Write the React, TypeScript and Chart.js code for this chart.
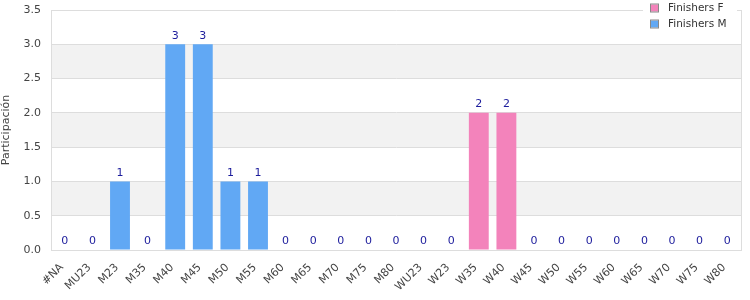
import React, { useEffect, useRef } from "react";
import { Chart, registerables } from "chart.js";

Chart.register(...registerables);

const categories = ["#NA","MU23","M23","M35","M40","M45","M50","M55","M60","M65","M70","M75","M80","WU23","W23","W35","W40","W45","W50","W55","W60","W65","W70","W75","W80"];
const finishersF = [0,0,0,0,0,0,0,0,0,0,0,0,0,0,0,2,2,0,0,0,0,0,0,0,0];
const finishersM = [0,0,1,0,3,3,1,1,0,0,0,0,0,0,0,0,0,0,0,0,0,0,0,0,0];
const yTicks = [0, 0.5, 1, 1.5, 2, 2.5, 3, 3.5];

const FONT = "'DejaVu Sans', Verdana, sans-serif";

const bandsPlugin = {
  id: "bands",
  beforeDraw(chart: any) {
    const { ctx, chartArea, scales } = chart;
    const y = scales.y;
    ctx.save();
    ctx.fillStyle = "#ffffff";
    ctx.fillRect(chartArea.left, chartArea.top, chartArea.right - chartArea.left, chartArea.bottom - chartArea.top);
    for (let i = 0; i < yTicks.length - 1; i++) {
      if (i % 2 === 1) {
        const y0 = y.getPixelForValue(yTicks[i]);
        const y1 = y.getPixelForValue(yTicks[i + 1]);
        ctx.fillStyle = "#f2f2f2";
        ctx.fillRect(chartArea.left, y1, chartArea.right - chartArea.left, y0 - y1);
      }
    }
    ctx.restore();
  },
};

const labelsPlugin = {
  id: "totals",
  afterDatasetsDraw(chart: any) {
    const { ctx, scales } = chart;
    ctx.save();
    ctx.font = `11px ${FONT}`;
    ctx.fillStyle = "#1c1c9c";
    ctx.textAlign = "center";
    ctx.textBaseline = "bottom";
    categories.forEach((c, i) => {
      const total = finishersF[i] + finishersM[i];
      const x = scales.x.getPixelForValue(i);
      const y = scales.y.getPixelForValue(total);
      ctx.fillText(String(total), x, y - 3);
    });
    ctx.restore();
  },
};

const legendPlugin = {
  id: "customLegend",
  afterDraw(chart: any) {
    const { ctx } = chart;
    ctx.save();
    ctx.fillStyle = "#ffffff";
    ctx.fillRect(643, 0, 94, 34);
    const items = chart.data.datasets;
    ctx.font = `10.5px ${FONT}`;
    ctx.textBaseline = "middle";
    ctx.textAlign = "left";
    items.forEach((ds: any, i: number) => {
      const cy = 8 + i * 16;
      ctx.fillStyle = ds.backgroundColor;
      ctx.fillRect(651, cy - 3.5, 7, 7);
      ctx.strokeStyle = "#888888";
      ctx.lineWidth = 1;
      ctx.strokeRect(650.5, cy - 4, 8, 8);
      ctx.fillStyle = "#333333";
      ctx.fillText(ds.label, 668, cy);
    });
    ctx.restore();
  },
};

export default function App() {
  const ref = useRef<HTMLCanvasElement>(null);
  useEffect(() => {
    document.body.style.margin = "0";
    const chart = new Chart(ref.current!, {
      type: "bar",
      data: {
        labels: categories,
        datasets: [
          { label: "Finishers F", data: finishersF, backgroundColor: "#f383bb", borderWidth: 0 },
          { label: "Finishers M", data: finishersM, backgroundColor: "#61a8f4", borderWidth: 0 },
        ],
      },
      options: {
        animation: false,
        responsive: false,
        layout: { padding: { top: 10, right: 9, left: 0, bottom: 0 } },
        plugins: { legend: { display: false }, tooltip: { enabled: false } },
        scales: {
          x: {
            stacked: true,
            grid: { display: false, drawTicks: false },
            border: { display: true, color: "#dddddd" },
            ticks: {
              color: "#444444",
              font: { family: FONT, size: 11 },
              maxRotation: 45,
              minRotation: 45,
              autoSkip: false,
              padding: 11,
              labelOffset: -3,
            },
            afterFit(scale: any) { scale.height = 50; scale.paddingLeft = 0; scale.paddingRight = 0; },
          },
          y: {
            stacked: true,
            min: 0,
            max: 3.5,
            grid: { color: "#dddddd", drawTicks: false },
            border: { display: true, color: "#dddddd" },
            ticks: {
              stepSize: 0.5,
              color: "#444444",
              font: { family: FONT, size: 11 },
              padding: 10,
              callback: (v: any) => Number(v).toFixed(1),
            },
            title: {
              display: true,
              text: "Participación",
              color: "#444444",
              font: { family: FONT, size: 11 },
              padding: 0,
            },
            afterFit(scale: any) { scale.width = 51; scale.paddingTop = 0; scale.paddingBottom = 0; },
          },
        },
      },
      plugins: [bandsPlugin, labelsPlugin, legendPlugin,
        {
          id: "rightBorder",
          afterDraw(chart: any) {
            const { ctx, chartArea } = chart;
            ctx.save();
            ctx.strokeStyle = "#dddddd";
            ctx.lineWidth = 1;
            ctx.beginPath();
            ctx.moveTo(chartArea.right + 0.5, chartArea.top);
            ctx.lineTo(chartArea.right + 0.5, chartArea.bottom);
            ctx.stroke();
            ctx.restore();
          },
        },
      ],
    });
    return () => chart.destroy();
  }, []);
  return <canvas ref={ref} width={750} height={300} style={{ display: "block" }} />;
}
